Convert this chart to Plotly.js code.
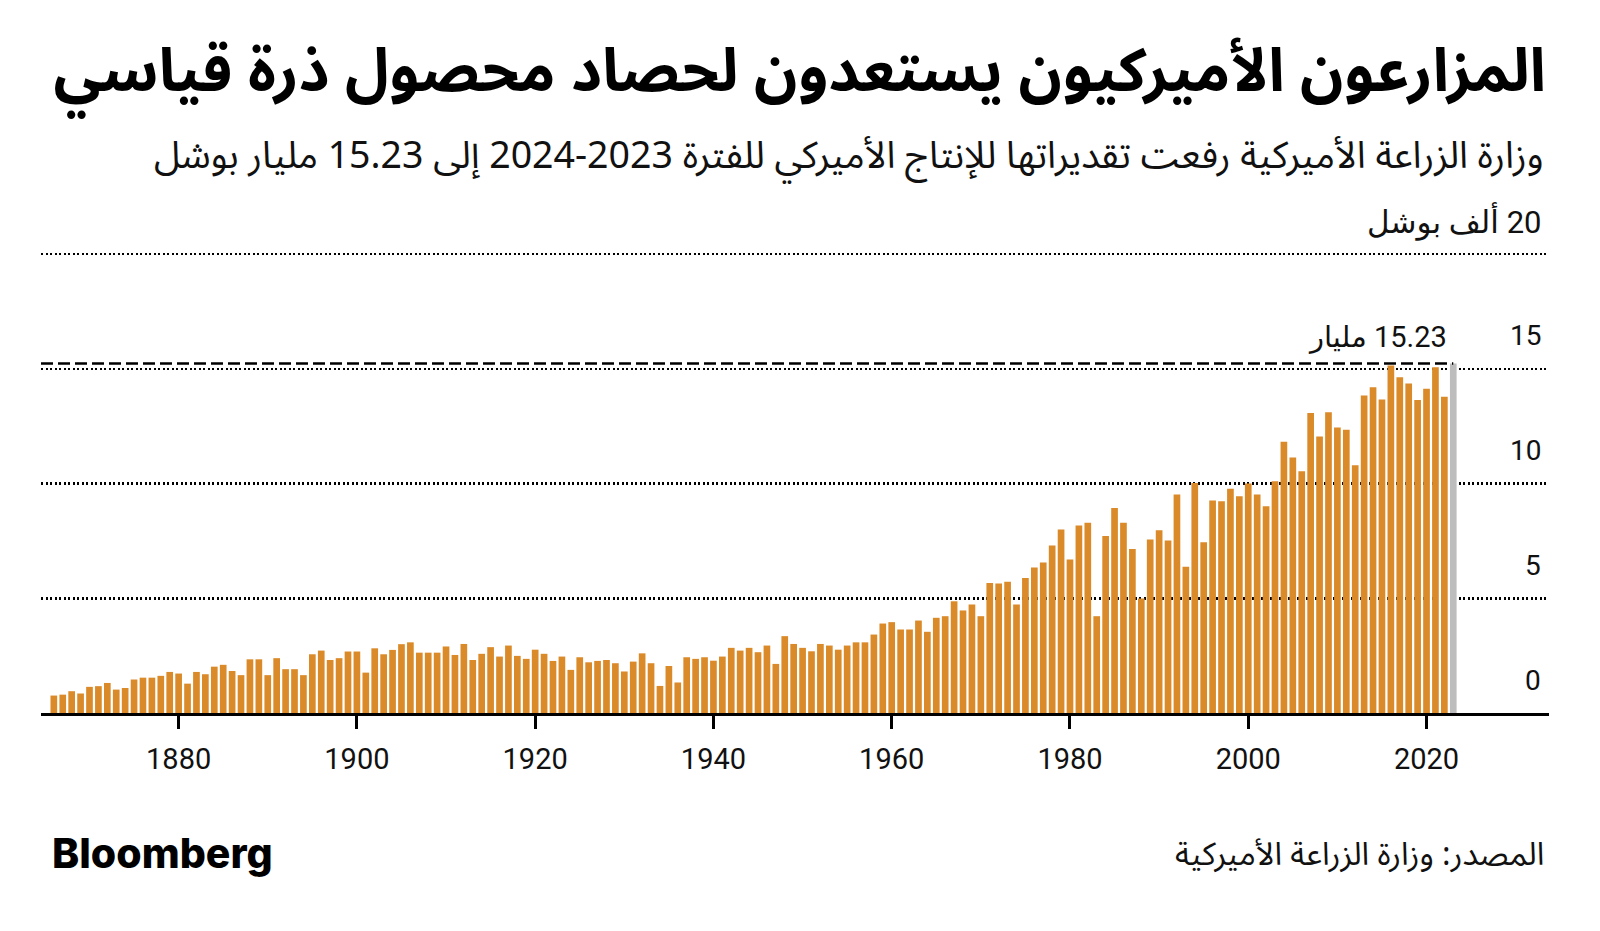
<!DOCTYPE html>
<html>
<head>
<meta charset="utf-8">
<script src="https://cdn.plot.ly/plotly-3.0.1.min.js"></script>
<style>
  html, body { margin: 0; padding: 0; background: #ffffff; }
  #chart { width: 1600px; height: 931px; }
</style>
</head>
<body>
<div id="chart"></div>
<script>
// ---------------- DATA ----------------
const years = [
  1866, 1867, 1868, 1869, 1870, 1871, 1872, 1873, 1874, 1875,
  1876, 1877, 1878, 1879, 1880, 1881, 1882, 1883, 1884, 1885,
  1886, 1887, 1888, 1889, 1890, 1891, 1892, 1893, 1894, 1895,
  1896, 1897, 1898, 1899, 1900, 1901, 1902, 1903, 1904, 1905,
  1906, 1907, 1908, 1909, 1910, 1911, 1912, 1913, 1914, 1915,
  1916, 1917, 1918, 1919, 1920, 1921, 1922, 1923, 1924, 1925,
  1926, 1927, 1928, 1929, 1930, 1931, 1932, 1933, 1934, 1935,
  1936, 1937, 1938, 1939, 1940, 1941, 1942, 1943, 1944, 1945,
  1946, 1947, 1948, 1949, 1950, 1951, 1952, 1953, 1954, 1955,
  1956, 1957, 1958, 1959, 1960, 1961, 1962, 1963, 1964, 1965,
  1966, 1967, 1968, 1969, 1970, 1971, 1972, 1973, 1974, 1975,
  1976, 1977, 1978, 1979, 1980, 1981, 1982, 1983, 1984, 1985,
  1986, 1987, 1988, 1989, 1990, 1991, 1992, 1993, 1994, 1995,
  1996, 1997, 1998, 1999, 2000, 2001, 2002, 2003, 2004, 2005,
  2006, 2007, 2008, 2009, 2010, 2011, 2012, 2013, 2014, 2015,
  2016, 2017, 2018, 2019, 2020, 2021, 2022, 2023
];

// US corn production (billion bushels)
const production = [
  0.76, 0.80, 0.95, 0.85, 1.14, 1.17, 1.31, 1.02, 1.09, 1.46,
  1.54, 1.54, 1.62, 1.79, 1.72, 1.28, 1.79, 1.69, 2.02, 2.10,
  1.83, 1.65, 2.34, 2.34, 1.65, 2.39, 1.91, 1.91, 1.65, 2.56,
  2.72, 2.31, 2.39, 2.68, 2.68, 1.76, 2.82, 2.56, 2.75, 3.00,
  3.08, 2.63, 2.63, 2.63, 2.90, 2.53, 3.01, 2.31, 2.58, 2.87,
  2.46, 2.94, 2.49, 2.36, 2.76, 2.58, 2.27, 2.46, 1.88, 2.43,
  2.21, 2.27, 2.31, 2.17, 1.81, 2.24, 2.60, 2.17, 1.18, 2.05,
  1.33, 2.43, 2.36, 2.43, 2.28, 2.46, 2.84, 2.72, 2.84, 2.65,
  2.94, 2.14, 3.35, 3.01, 2.84, 2.69, 3.01, 2.94, 2.76, 2.94,
  3.08, 3.08, 3.42, 3.90, 3.96, 3.64, 3.64, 4.03, 3.54, 4.15,
  4.22, 4.87, 4.47, 4.73, 4.22, 5.67, 5.64, 5.72, 4.73, 5.88,
  6.34, 6.56, 7.30, 8.00, 6.69, 8.17, 8.29, 4.22, 7.71, 8.94,
  8.29, 7.15, 4.99, 7.56, 7.97, 7.52, 9.52, 6.37, 10.03, 7.44,
  9.26, 9.23, 9.77, 9.45, 10.00, 9.52, 9.01, 10.10, 11.82, 11.14,
  10.54, 13.08, 12.05, 13.11, 12.44, 12.35, 10.80, 13.84, 14.20, 13.66,
  15.15, 14.64, 14.36, 13.64, 14.13, 15.07, 13.78, 15.23
];

const xTickVals = [1880, 1900, 1920, 1940, 1960, 1980, 2000, 2020];
const xTickText = ['1880', '1900', '1920', '1940', '1960', '1980', '2000', '2020'];
const yTickVals = [0, 5, 10, 15, 20];
const yTickText = ['0', '5', '10', '15', '\u200F20 ألف بوشل'];

const estimateYear = 2023;
const highlightValue = 15.23;
const highlightLabel = '\u200F15.23 مليار';

const titleText = 'المزارعون الأميركيون يستعدون لحصاد محصول ذرة قياسي';
const subtitleText = 'وزارة الزراعة الأميركية رفعت تقديراتها للإنتاج الأميركي للفترة 2023-2024 إلى 15.23 مليار بوشل';
const sourceText = 'المصدر: وزارة الزراعة الأميركية';
const brandText = 'Bloomberg';

// ---------------- STYLE / LAYOUT ----------------
const W = 1600, H = 931;
const M = { l: 41, r: 51, t: 245, b: 218 };
const plotW = W - M.l - M.r, plotH = H - M.t - M.b;
const fx = px => (px - M.l) / plotW;
const fy = py => (H - M.b - py) / plotH;

const ORANGE = '#da8a29';
const GREY = '#bdbdbd';
const ARABIC = "'Noto Sans Arabic', 'Noto Kufi Arabic', 'DejaVu Sans', sans-serif";
const LATIN = "Roboto, 'DejaVu Sans', sans-serif";

const xRange = [1864.56, 2033.74];
const yRange = [0, 20.4];

const barColors = years.map(y => (y === estimateYear ? GREY : ORANGE));

const traces = [{
  type: 'bar',
  x: years,
  y: production,
  width: 0.75,
  marker: { color: barColors, line: { width: 0 } },
  hoverinfo: 'x+y'
}];

const annotations = [];

// subtitle
annotations.push({
  text: subtitleText, xref: 'paper', yref: 'paper',
  x: fx(1546), y: fy(156), xanchor: 'right', yanchor: 'middle',
  showarrow: false, font: { family: ARABIC, size: 37.5, color: '#111' }
});

// y-axis labels sitting above their grid lines
yTickVals.forEach((v, i) => {
  annotations.push({
    text: yTickText[i], xref: 'paper', yref: 'y',
    x: 1, xshift: -6, y: v, yshift: 33,
    xanchor: 'right', yanchor: 'middle', showarrow: false,
    font: { family: LATIN, size: v === 20 ? 31 : 28, color: '#111' }
  });
});

// highlight label
annotations.push({
  text: highlightLabel, xref: 'x', yref: 'y',
  x: estimateYear, xshift: -4, y: highlightValue, yshift: 27,
  xanchor: 'right', yanchor: 'middle', showarrow: false,
  font: { family: LATIN, size: 29, color: '#111' }
});

// brand
annotations.push({
  text: brandText, xref: 'paper', yref: 'paper',
  x: fx(50), y: fy(853), xanchor: 'left', yanchor: 'middle',
  showarrow: false, font: { family: "Inter, 'Liberation Sans', sans-serif", size: 41, weight: 800, color: '#000' }
});

// source
annotations.push({
  text: sourceText, xref: 'paper', yref: 'paper',
  x: fx(1546), y: fy(855), xanchor: 'right', yanchor: 'middle',
  showarrow: false, font: { family: ARABIC, size: 32, color: '#111' }
});

const shapes = [{
  type: 'line', xref: 'x', yref: 'y',
  x0: xRange[0], x1: estimateYear, y0: highlightValue, y1: highlightValue,
  line: { color: '#000', width: 2.5, dash: '12px,5px' }, layer: 'above'
}];

const layout = {
  width: W, height: H,
  margin: M,
  paper_bgcolor: '#fff', plot_bgcolor: '#fff',
  showlegend: false,
  bargap: 0.2,
  title: {
    text: '<b>' + titleText + '</b>',
    xref: 'container', yref: 'container',
    x: 1546 / W, xanchor: 'right',
    y: 1 - 70 / H, yanchor: 'middle',
    font: { family: ARABIC, size: 60, color: '#000' }
  },
  xaxis: {
    range: xRange,
    tickvals: xTickVals, ticktext: xTickText,
    ticks: 'outside', ticklen: 13, tickwidth: 3, tickcolor: '#000',
    showline: true, linecolor: '#000', linewidth: 3,
    showgrid: false, zeroline: false,
    tickfont: { family: LATIN, size: 29, color: '#111' },
    ticklabelstandoff: 5,
    fixedrange: true
  },
  yaxis: {
    range: yRange,
    tickvals: yTickVals.filter(v => v > 0),
    showticklabels: false,
    showgrid: true, gridcolor: '#000', gridwidth: 2.5, griddash: '2px,2.5px',
    zeroline: false, showline: false, ticks: '',
    fixedrange: true
  },
  annotations: annotations,
  shapes: shapes
};

Plotly.newPlot('chart', traces, layout, { staticPlot: true, displayModeBar: false });
</script>
</body>
</html>
